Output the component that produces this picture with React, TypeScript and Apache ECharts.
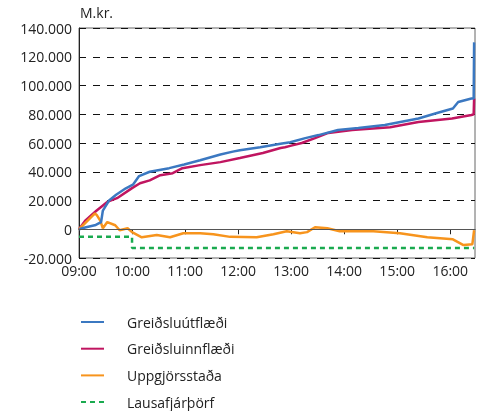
import React, { useEffect, useRef } from "react";
import * as echarts from "echarts";

// minutes after 09:00
const blueTimes = [0, 8, 19, 25, 27, 34, 42, 53, 61, 68, 80, 102, 119, 137, 160, 174, 182, 205, 228, 239, 256, 271, 293, 316, 346, 384, 406, 423, 429, 444, 446.5, 447];
const blueValues = [0, 1400, 3000, 5000, 13000, 20000, 24000, 28500, 31000, 37000, 40000, 42500, 45000, 48000, 52000, 54000, 55000, 57000, 59500, 60500, 63400, 65500, 69000, 70500, 72500, 77000, 81000, 84000, 88500, 91000, 91000, 130000];

const redTimes = [0, 7, 20, 32, 43, 60, 69, 80, 92, 106, 117, 137, 160, 182, 208, 228, 233, 239, 252, 267, 282, 309, 352, 384, 422, 444, 446.5, 447];
const redValues = [0, 6000, 13000, 19000, 21600, 28600, 32000, 34000, 37600, 39000, 42500, 44600, 46700, 49500, 53000, 56500, 57000, 58000, 60000, 63400, 67000, 69000, 71000, 74600, 77000, 79500, 80000, 91000];

const orangeTimes = [0, 18, 20, 24, 27, 32, 41, 46, 55, 60, 71, 88, 103, 118, 137, 152, 171, 201, 220, 235, 250, 258, 267, 281, 295, 333, 363, 394, 423, 435, 445, 447];
const orangeValues = [0, 11000, 10000, 6000, 700, 5000, 2800, -700, 700, -2000, -5600, -4000, -5600, -2800, -2800, -3500, -5300, -5600, -3500, -1400, -2800, -2000, 1400, 700, -1400, -1400, -2800, -5600, -7000, -11000, -10500, -700];

const greenTimes = [0, 60, 60, 447];
const greenValues = [-5300, -5300, -13000, -13000];

const seriesNames = ["Greiðsluútflæði", "Greiðsluinnflæði", "Uppgjörsstaða", "Lausafjárþörf"];
const yTicks = [-20000, 0, 20000, 40000, 60000, 80000, 100000, 120000, 140000];

const pairs = (t: number[], v: number[]) => t.map((x, i) => [x, v[i]]);

const fmtY = (v: number) => {
  if (v === 0) return "0";
  const s = Math.abs(v).toString().replace(/\B(?=(\d{3})+(?!\d))/g, ".");
  return (v < 0 ? "-" : "") + s;
};
const fmtX = (m: number) => {
  const h = 9 + Math.floor(m / 60);
  const mm = Math.round(m % 60);
  return (h < 10 ? "0" : "") + h + ":" + (mm < 10 ? "0" : "") + mm;
};

export default function App() {
  const ref = useRef<HTMLDivElement>(null);
  useEffect(() => {
    const chart = echarts.init(ref.current!, null, { renderer: "svg" });
    const font = "'Open Sans', 'Noto Sans', sans-serif";
    chart.setOption({
      animation: false,
      textStyle: { fontFamily: font },
      grid: { left: 79, right: 5, top: 28, bottom: 153, show: true, borderColor: "#666", borderWidth: 1 },
      graphic: [
        { type: "text", left: 80, top: 5, style: { text: "M.kr.", fontSize: 14, fill: "#222", fontFamily: font } },
      ],
      legend: {
        orient: "vertical",
        left: 80,
        top: 315,
        height: 96,
        padding: 0,
        itemWidth: 23,
        itemHeight: 14,
        itemGap: 12.7,
        itemStyle: { opacity: 0 },
        textStyle: { fontSize: 14, color: "#222", fontFamily: font, padding: [0, 0, 0, 18] },
        data: seriesNames,
      },
      xAxis: {
        type: "value",
        min: 0,
        max: 448,
        interval: 60,
        axisLine: { show: true, lineStyle: { color: "#222" } },
        axisTick: { show: true, length: 5, lineStyle: { color: "#222" } },
        axisLabel: { fontSize: 14, color: "#222", margin: 5, formatter: fmtX, showMaxLabel: false },
        splitLine: { show: false },
      },
      yAxis: {
        type: "value",
        min: yTicks[0],
        max: yTicks[yTicks.length - 1],
        interval: 20000,
        axisLine: { show: true, lineStyle: { color: "#222" } },
        axisTick: { show: false },
        axisLabel: { fontSize: 14, color: "#222", margin: 7, formatter: fmtY },
        splitLine: { show: true, lineStyle: { color: "#111", type: [7, 7], width: 1 } },
      },
      series: [
        {
          name: seriesNames[0], type: "line", symbol: "none",
          data: pairs(blueTimes, blueValues),
          lineStyle: { color: "#3b78c1", width: 2.5 }, itemStyle: { color: "#3b78c1" }, z: 4,
        },
        {
          name: seriesNames[1], type: "line", symbol: "none",
          data: pairs(redTimes, redValues),
          lineStyle: { color: "#c01560", width: 2.5 }, itemStyle: { color: "#c01560" }, z: 3,
        },
        {
          name: seriesNames[2], type: "line", symbol: "none",
          data: pairs(orangeTimes, orangeValues),
          lineStyle: { color: "#f7941d", width: 2.5 }, itemStyle: { color: "#f7941d" }, z: 3,
        },
        {
          name: seriesNames[3], type: "line", symbol: "none",
          data: pairs(greenTimes, greenValues),
          lineStyle: { color: "#1aaa4f", width: 2.5, type: [5, 4] }, itemStyle: { color: "#1aaa4f" }, z: 2,
          markLine: {
            silent: true, symbol: "none", label: { show: false },
            lineStyle: { color: "#555", type: "solid", width: 1.2 },
            data: [{ yAxis: 0 }],
          },
        },
      ],
    });
    return () => chart.dispose();
  }, []);
  return <div ref={ref} style={{ position: "fixed", left: 0, top: 0, width: 480, height: 411 }} />;
}
